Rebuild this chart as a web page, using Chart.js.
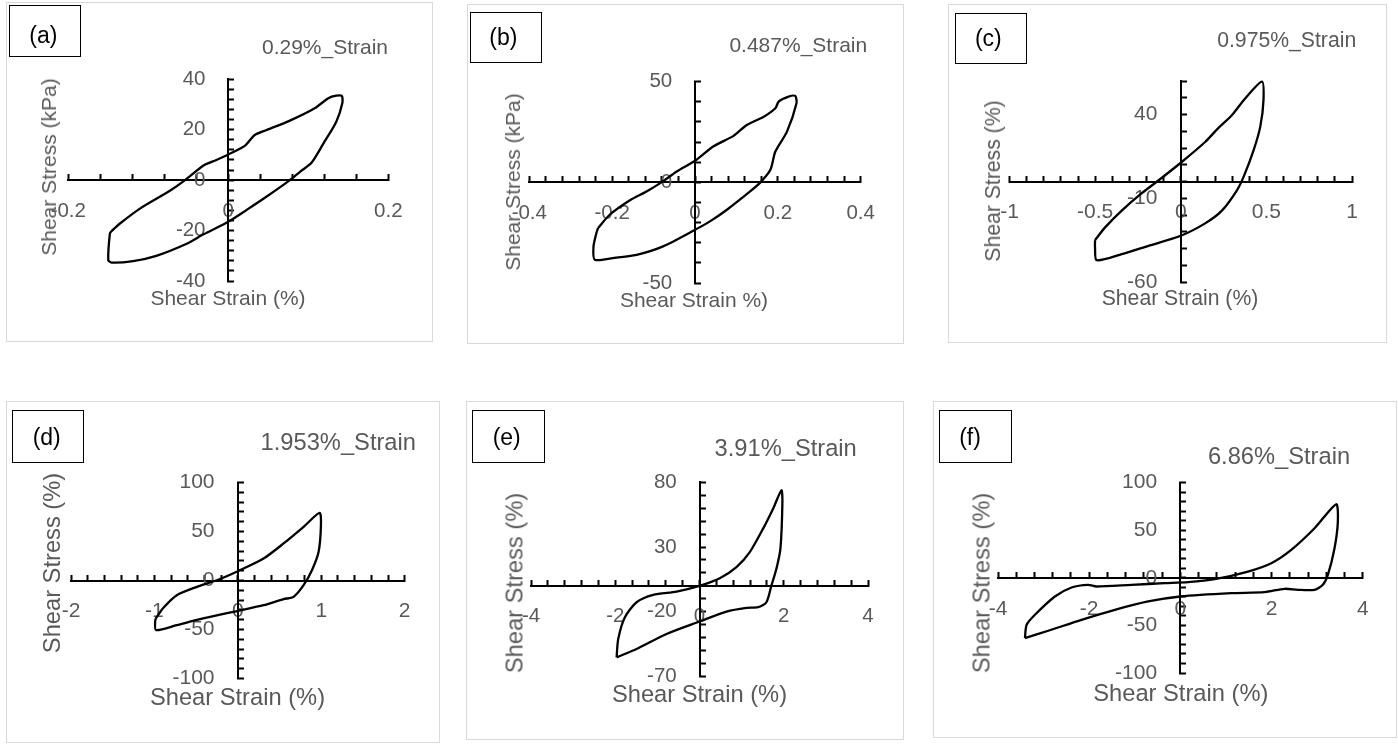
<!DOCTYPE html>
<html>
<head>
<meta charset="utf-8">
<script src="https://cdn.jsdelivr.net/npm/chart.js@4.4.1/dist/chart.umd.min.js"></script>
<style>
  body { margin: 0; background: #fff; width: 1398px; height: 744px; position: relative; overflow: hidden; font-family: "Liberation Sans", Arial, sans-serif; }
  .frame { position: absolute; border: 1.5px solid #d9d9d9; box-sizing: border-box; }
  .wrap { position: absolute; }
  .tag { position: absolute; border: 1.5px solid #000; box-sizing: border-box; }
  .txt { position: absolute; transform: translate(-50%, -50%); white-space: nowrap; color: #595959; }
  .tagtxt { position: absolute; transform: translate(-50%, -50%); white-space: nowrap; color: #000; font-size: 23px; }
  .rot { transform: translate(-50%, -50%) rotate(-90deg); }
</style>
</head>
<body>
<script>
// shear strain (%) / shear stress, one loop per test
const strainA = [-0.146, -0.135, -0.110, -0.073, -0.054, -0.031, -0.015, 0, 0.021, 0.033, 0.048, 0.077, 0.108, 0.125, 0.135, 0.142,
  0.1425, 0.135, 0.119, 0.104, 0.090, 0.077, 0.048, 0.023, 0, -0.031, -0.052, -0.090, -0.119, -0.146, -0.150, -0.148, -0.146];
const stressA = [-20.2, -17.1, -11.2, -4.2, 0, 5.8, 8.0, 10.2, 13.7, 17.9, 19.9, 23.6, 28.5, 32.5, 33.5, 33.4,
  30.5, 23.2, 14.6, 6.9, 3.4, 0, -6.5, -11.8, -16.5, -21.5, -25.2, -30.0, -32.1, -32.7, -31.7, -21.1, -20.2];

const strainB = [-0.234, -0.206, -0.158, -0.117, -0.081, -0.044, 0, 0.044, 0.093, 0.125, 0.166, 0.194, 0.202, 0.226, 0.242,
  0.245, 0.222, 0.194, 0.182, 0.158, 0.133, 0.077, 0.036, 0, -0.077, -0.141, -0.198, -0.242, -0.245, -0.238, -0.234];
const stressB = [-22.7, -16.1, -9.0, -4.5, 0, 5.4, 10.7, 17.8, 23.1, 28.5, 32.6, 36.8, 40.1, 42.6, 42.9,
  39.3, 25.2, 15.3, 6.2, 0, -4.5, -13.6, -19.4, -23.6, -31.8, -36.0, -37.6, -38.4, -31.8, -25.2, -22.7];

const strainC = [-0.501, -0.442, -0.345, -0.228, -0.131, 0, 0.142, 0.220, 0.298, 0.376, 0.474,
  0.483, 0.464, 0.425, 0.366, 0.327, 0.240, 0.142, 0, -0.189, -0.345, -0.491, -0.501, -0.501];
const stressC = [-35, -27.4, -17.4, -7, 0.6, 11.2, 23.6, 32, 39.6, 49.6, 59.6,
  48.6, 32.6, 18.6, 2.6, -5.4, -17.4, -25, -32.4, -38.4, -43.4, -47, -39.4, -35];

const strainD = [-0.984, -0.892, -0.732, -0.492, -0.252, 0, 0.308, 0.548, 0.788, 0.98,
  0.996, 0.968, 0.888, 0.788, 0.668, 0.548, 0.308, 0, -0.452, -0.732, -0.98, -0.992, -0.984];
const stressD = [-38.8, -27.9, -15, -6.5, 0.3, 9.5, 22.4, 37.8, 54.8, 69,
  56.5, 29.3, 10.5, -4.8, -16.7, -19, -25.2, -31, -39.5, -45.6, -50.7, -42.2, -38.8];

const strainE = [-1.968, -1.929, -1.771, -1.494, -1.099, -0.545, 0, 0.482, 0.877, 1.194, 1.510, 1.747, 1.945,
  1.968, 1.921, 1.826, 1.708, 1.589, 1.391, 1.115, 0.640, 0, -0.783, -1.494, -1.968];
const stressE = [-55.3, -41, -24.3, -12.7, -7, -4.4, 0, 5.9, 14.5, 26.1, 44.2, 59.6, 73.8,
  64.8, 28.7, 13.2, 0.3, -12.7, -16.5, -17, -19.9, -27.6, -37.2, -48.8, -55.3];

const strainF = [-3.409, -3.372, -3.19, -2.752, -2.387, -2.022, -1.84, -1.073, -0.343, 0.168, 0.752, 1.482, 1.993, 2.431, 2.942, 3.416,
  3.453, 3.380, 3.234, 3.124, 2.942, 2.577, 2.285, 1.847, 1.117, 0, -0.708, -1.438, -2.168, -2.898, -3.409];
const stressF = [-63.3, -49.3, -38.8, -19.6, -10.1, -7.3, -9.1, -7.3, -5.6, -4.5, -1.4, 6.6, 15.4, 29.4, 52.1, 77.3,
  59.1, 31.1, 3.1, -7.3, -12.6, -12.6, -11.5, -15, -16.1, -19.6, -24.8, -33.6, -44.1, -55.6, -63.3];

// axis ranges: [min, max, labelled step, minor step]
const xAxisA = [-0.2, 0.2, 0.2, 0.04], yAxisA = [-40, 40, 20, 4];
const xAxisB = [-0.4, 0.4, 0.2, 0.04], yAxisB = [-50, 50, 50, 10];
const xAxisC = [-1, 1, 0.5, 0.1],      yAxisC = [-60, 60, 50, 10];
const xAxisD = [-2, 2, 1, 0.2],        yAxisD = [-100, 100, 50, 10];
const xAxisE = [-4, 4, 2, 0.4],        yAxisE = [-70, 80, 50, 10];
const xAxisF = [-4, 4, 2, 0.4],        yAxisF = [-100, 100, 50, 10];

const tags = ["(a)", "(b)", "(c)", "(d)", "(e)", "(f)"];
const titles = ["0.29%_Strain", "0.487%_Strain", "0.975%_Strain", "1.953%_Strain", "3.91%_Strain", "6.86%_Strain"];
const xTitles = ["Shear Strain (%)", "Shear Strain %)", "Shear Strain (%)", "Shear Strain (%)", "Shear Strain (%)", "Shear Strain (%)"];
const yTitles = ["Shear Stress (kPa)", "Shear Stress (kPa)", "Shear Stress (%)", "Shear Stress (%)", "Shear Stress (%)", "Shear Stress (%)"];

// page layout, in pixels
const boxes = [
  { frame: [6, 2, 433, 342], plot: [68.3, 79.3, 388.3, 281], tick: 20.5, font: 21,
    tag: [9, 5, 81, 57], tagAt: [43.3, 35], titleAt: [325, 46.7], xTitleAt: [228, 297.7], yTitleAt: [49, 166.7] },
  { frame: [466.7, 4, 904.3, 344.3], plot: [529, 81.7, 860, 283.3], tick: 20.5, font: 21,
    tag: [470, 11.7, 542.3, 63.3], tagAt: [503.3, 36.7], titleAt: [798.3, 45], xTitleAt: [694, 300], yTitleAt: [513.3, 181.7] },
  { frame: [947.7, 4, 1386.7, 342.7], plot: [1009.3, 81, 1351.7, 281.7], tick: 21, font: 21.2,
    tag: [955, 12.7, 1027.3, 64.3], tagAt: [988.3, 38.3], titleAt: [1286.7, 40], xTitleAt: [1180, 297.7], yTitleAt: [993.3, 180.8] },
  { frame: [6, 401, 440.3, 743], plot: [71, 482.5, 405, 678.5], tick: 21, font: 23.7,
    tag: [11.7, 410, 84.3, 462.7], tagAt: [46.7, 436.7], titleAt: [338.3, 441.7], xTitleAt: [237.5, 696.7], yTitleAt: [51.7, 563.3] },
  { frame: [466, 401, 904.3, 740], plot: [531, 482.3, 868.3, 676.4], tick: 20.5, font: 23.7,
    tag: [472.3, 410, 545, 462.7], tagAt: [506.7, 436.7], titleAt: [785.7, 448.3], xTitleAt: [699.5, 694], yTitleAt: [515, 582.5] },
  { frame: [933.3, 401, 1397.5, 738.3], plot: [998.3, 482.7, 1363.3, 673.3], tick: 21, font: 23.7,
    tag: [939.3, 410, 1011.7, 462.7], tagAt: [970, 436.7], titleAt: [1279, 456], xTitleAt: [1180.8, 693.3], yTitleAt: [981.7, 582.5] }
];

const loops = [
  [strainA, stressA, xAxisA, yAxisA],
  [strainB, stressB, xAxisB, yAxisB],
  [strainC, stressC, xAxisC, yAxisC],
  [strainD, stressD, xAxisD, yAxisD],
  [strainE, stressE, xAxisE, yAxisE],
  [strainF, stressF, xAxisF, yAxisF]
];

const fontFamily = '"Liberation Sans", Arial, sans-serif';

function isMajor(v, min, step) {
  const q = (v - min) / step;
  return Math.abs(q - Math.round(q)) < 1e-6;
}

function fmt(v) {
  return String(Math.round(v * 1000) / 1000);
}

function addDiv(cls, text, style) {
  const d = document.createElement("div");
  d.className = cls;
  if (text) d.textContent = text;
  Object.assign(d.style, style);
  document.body.appendChild(d);
  return d;
}

function px(v) {
  return v + "px";
}

boxes.forEach((b, i) => {
  const [L, T, R, B] = b.frame;
  const [px0, py0, px1, py1] = b.plot;
  const [strain, stress, xa, ya] = loops[i];

  addDiv("frame", "", { left: px(L), top: px(T), width: px(R - L), height: px(B - T) });

  const wrap = addDiv("wrap", "", { left: px(L), top: px(T), width: px(R - L), height: px(B - T) });
  const canvas = document.createElement("canvas");
  canvas.width = Math.round(R - L);
  canvas.height = Math.round(B - T);
  wrap.appendChild(canvas);

  new Chart(canvas.getContext("2d"), {
    type: "scatter",
    data: {
      datasets: [{
        data: strain.map((x, k) => ({ x: x, y: stress[k] })),
        showLine: true,
        borderColor: "#000",
        borderWidth: 2.3,
        pointRadius: 0,
        tension: 0.25,
        fill: false,
        clip: false
      }]
    },
    options: {
      responsive: false,
      animation: false,
      devicePixelRatio: 1,
      layout: { padding: { left: px0 - L, top: py0 - T, right: R - px1, bottom: B - py1 } },
      plugins: { legend: { display: false }, tooltip: { enabled: false } },
      scales: {
        x: {
          type: "linear",
          min: xa[0],
          max: xa[1],
          position: { y: 0 },
          afterFit: s => { s.height = 0; },
          ticks: {
            stepSize: xa[3],
            autoSkip: false,
            maxRotation: 0,
            padding: 38 - 0.6 * b.tick,
            color: "#595959",
            font: { family: fontFamily, size: b.tick },
            callback: v => isMajor(v, xa[0], xa[2]) ? fmt(v) : ""
          },
          grid: { display: true, drawOnChartArea: false, drawTicks: true, tickLength: -7, tickWidth: 2, tickColor: "#000" },
          border: { display: true, color: "#000", width: 2 }
        },
        y: {
          type: "linear",
          min: ya[0],
          max: ya[1],
          position: { x: 0 },
          afterFit: s => { s.width = 0; },
          ticks: {
            stepSize: ya[3],
            autoSkip: false,
            padding: 0,
            color: "#595959",
            font: { family: fontFamily, size: b.tick },
            callback: v => isMajor(v, ya[0], ya[2]) ? fmt(v) + "    " : ""
          },
          grid: { display: true, drawOnChartArea: false, drawTicks: true, tickLength: -7, tickWidth: 2, tickColor: "#000" },
          border: { display: true, color: "#000", width: 2 }
        }
      }
    }
  });

  const [tl, tt, tr, tb] = b.tag;
  addDiv("tag", "", { left: px(tl), top: px(tt), width: px(tr - tl), height: px(tb - tt) });
  addDiv("tagtxt", tags[i], { left: px(b.tagAt[0]), top: px(b.tagAt[1]) });
  addDiv("txt", titles[i], { left: px(b.titleAt[0]), top: px(b.titleAt[1]), fontSize: px(b.font) });
  addDiv("txt", xTitles[i], { left: px(b.xTitleAt[0]), top: px(b.xTitleAt[1]), fontSize: px(b.font) });
  addDiv("txt rot", yTitles[i], { left: px(b.yTitleAt[0]), top: px(b.yTitleAt[1]), fontSize: px(b.font) });
});
</script>
</body>
</html>
